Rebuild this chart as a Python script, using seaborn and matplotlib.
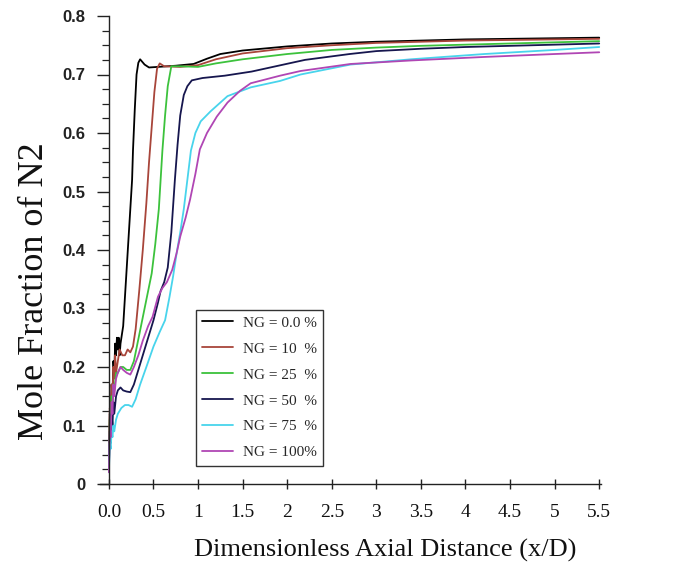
import numpy as np
import pandas as pd
import seaborn as sns
import matplotlib
matplotlib.use("Agg")
import matplotlib.pyplot as plt
from matplotlib.ticker import MultipleLocator, FixedLocator, FixedFormatter

# ---------------- data ----------------
labels = ["NG = 0.0 %", "NG = 10  %", "NG = 25  %", "NG = 50  %", "NG = 75  %", "NG = 100%"]
colors = ["#000000", "#a8453a", "#3cc23c", "#16164e", "#48d4ec", "#b046b4"]

x_ng0 = [0, 0.01, 0.02, 0.03, 0.04, 0.05, 0.06, 0.07, 0.08, 0.09, 0.10, 0.11, 0.12, 0.13, 0.14,
         0.16, 0.18, 0.20, 0.22, 0.24, 0.26, 0.27, 0.29, 0.31, 0.33, 0.35,
         0.40, 0.45, 0.55, 0.75, 0.95, 1.10, 1.25,
         1.5, 2.0, 2.5, 3.0, 3.5, 4.0, 4.5, 5.0, 5.5]
y_ng0 = [0.04, 0.12, 0.10, 0.17, 0.15, 0.21, 0.19, 0.24, 0.22, 0.25, 0.23, 0.25, 0.22, 0.24, 0.25,
         0.27, 0.32, 0.37, 0.42, 0.47, 0.52, 0.57, 0.64, 0.70, 0.72, 0.726,
         0.717, 0.712, 0.713, 0.715, 0.718, 0.727, 0.735,
         0.741, 0.748, 0.753, 0.756, 0.758, 0.760, 0.761, 0.762, 0.763]

x_ng10 = [0, 0.01, 0.02, 0.03, 0.04, 0.05, 0.06, 0.07, 0.08,
          0.10, 0.12, 0.15, 0.18, 0.21, 0.24, 0.27, 0.30,
          0.34, 0.38, 0.42, 0.45, 0.48, 0.51, 0.54, 0.57, 0.62,
          0.80, 1.0, 1.2, 1.5, 2.0, 2.5, 3.0, 3.5, 4.0, 4.5, 5.0, 5.5]
y_ng10 = [0.04, 0.13, 0.11, 0.17, 0.15, 0.20, 0.18, 0.22, 0.19,
          0.21, 0.23, 0.22, 0.22, 0.23, 0.225, 0.235, 0.265,
          0.33, 0.40, 0.48, 0.55, 0.61, 0.67, 0.71, 0.719, 0.714,
          0.713, 0.716, 0.726, 0.736, 0.745, 0.750, 0.754, 0.756, 0.758, 0.759, 0.760, 0.761]

x_ng25 = [0, 0.01, 0.02, 0.03, 0.04, 0.05, 0.06,
          0.08, 0.10, 0.13, 0.16, 0.20, 0.24, 0.28, 0.32, 0.36, 0.40,
          0.44, 0.48, 0.52, 0.56, 0.60, 0.63, 0.66, 0.70,
          0.80, 1.0, 1.2, 1.5, 2.0, 2.5, 3.0, 3.5, 4.0, 4.5, 5.0, 5.5]
y_ng25 = [0.03, 0.11, 0.09, 0.15, 0.13, 0.17, 0.16,
          0.19, 0.19, 0.20, 0.20, 0.195, 0.195, 0.21, 0.24, 0.27, 0.30,
          0.33, 0.36, 0.41, 0.47, 0.57, 0.63, 0.68, 0.714,
          0.714, 0.713, 0.719, 0.726, 0.735, 0.742, 0.746, 0.749, 0.751, 0.753, 0.755, 0.757]

x_ng50 = [0, 0.01, 0.02, 0.03, 0.04, 0.05, 0.06,
          0.08, 0.10, 0.13, 0.16, 0.20, 0.24, 0.28, 0.32, 0.38, 0.44,
          0.50, 0.55, 0.58, 0.62, 0.66, 0.70, 0.74, 0.77, 0.80, 0.84, 0.88, 0.93,
          1.05, 1.3, 1.6, 1.9, 2.2, 2.7, 3.0, 3.5, 4.0, 4.5, 5.0, 5.5]
y_ng50 = [0.03, 0.09, 0.07, 0.12, 0.10, 0.14, 0.12,
          0.15, 0.16, 0.165, 0.16, 0.158, 0.157, 0.17, 0.19, 0.22, 0.25,
          0.28, 0.31, 0.33, 0.345, 0.37, 0.43, 0.52, 0.58, 0.63, 0.665, 0.68, 0.69,
          0.694, 0.698, 0.705, 0.715, 0.725, 0.735, 0.740, 0.744, 0.747, 0.749, 0.751, 0.753]

x_ng75 = [0, 0.01, 0.02, 0.03, 0.04, 0.05, 0.06,
          0.08, 0.10, 0.14, 0.18, 0.22, 0.26, 0.30, 0.35, 0.42, 0.50,
          0.57, 0.63, 0.68, 0.72, 0.76, 0.80, 0.84, 0.88, 0.92, 0.97, 1.03,
          1.14, 1.33, 1.59, 1.92, 2.15, 2.71, 3.39, 4.21, 5.0, 5.5]
y_ng75 = [0.02, 0.07, 0.06, 0.09, 0.08, 0.10, 0.09,
          0.11, 0.12, 0.13, 0.135, 0.135, 0.132, 0.145, 0.17, 0.20, 0.235,
          0.26, 0.28, 0.32, 0.355, 0.395, 0.43, 0.47, 0.52, 0.57, 0.60, 0.62,
          0.637, 0.663, 0.678, 0.689, 0.70, 0.717, 0.726, 0.735, 0.742, 0.747]

x_ng100 = [0, 0.01, 0.02, 0.03, 0.04, 0.05, 0.06,
           0.08, 0.10, 0.13, 0.16, 0.20, 0.24, 0.28, 0.33, 0.38, 0.44,
           0.49, 0.55, 0.60, 0.65, 0.71, 0.76, 0.80, 0.86, 0.91, 0.97, 1.02,
           1.10, 1.21, 1.33, 1.47, 1.59, 1.92, 2.15, 2.71, 3.39, 4.21, 5.0, 5.5]
y_ng100 = [0.02, 0.10, 0.08, 0.14, 0.12, 0.17, 0.15,
           0.18, 0.19, 0.20, 0.195, 0.19, 0.187, 0.20, 0.22, 0.245, 0.27,
           0.286, 0.32, 0.335, 0.345, 0.366, 0.395, 0.423, 0.455, 0.486, 0.53, 0.572,
           0.60, 0.628, 0.652, 0.672, 0.685, 0.698, 0.706, 0.718, 0.724, 0.730, 0.735, 0.738]

x_ticks = [0, 0.5, 1, 1.5, 2, 2.5, 3, 3.5, 4, 4.5, 5, 5.5]
x_ticklabels = ["0.0", "0.5", "1", "1.5", "2", "2.5", "3", "3.5", "4", "4.5", "5", "5.5"]
y_ticks = [0, 0.1, 0.2, 0.3, 0.4, 0.5, 0.6, 0.7, 0.8]
y_ticklabels = ["0", "0.1", "0.2", "0.3", "0.4", "0.5", "0.6", "0.7", "0.8"]

xs_all = [x_ng0, x_ng10, x_ng25, x_ng50, x_ng75, x_ng100]
ys_all = [y_ng0, y_ng10, y_ng25, y_ng50, y_ng75, y_ng100]

df = pd.concat([pd.DataFrame({"x": xs, "y": ys, "series": lab})
                for lab, xs, ys in zip(labels, xs_all, ys_all)], ignore_index=True)

# ---------------- plot ----------------
sns.set_theme(style="white")
plt.rcParams["font.family"] = ["Liberation Serif", "DejaVu Serif"]

fig = plt.figure(figsize=(6.93, 5.70), dpi=100)
ax = fig.add_axes([100 / 693, 1 - 484 / 570, 501 / 693, 468 / 570])

sns.lineplot(data=df, x="x", y="y", hue="series", hue_order=labels,
             palette=dict(zip(labels, colors)), estimator=None, sort=False,
             linewidth=1.3, ax=ax)

ax.set_xlim(-0.1, 5.52)
ax.set_ylim(0, 0.8)
for s in ["top", "right"]:
    ax.spines[s].set_visible(False)
ax.spines["left"].set_position(("data", 0))
ax.spines["left"].set_bounds(0, 0.8)
for s in ["left", "bottom"]:
    ax.spines[s].set_color("#222222")
    ax.spines[s].set_linewidth(1.0)

ax.xaxis.set_major_locator(FixedLocator(x_ticks))
ax.xaxis.set_major_formatter(FixedFormatter(x_ticklabels))
ax.yaxis.set_major_locator(FixedLocator(y_ticks))
ax.yaxis.set_major_formatter(FixedFormatter(y_ticklabels))
ax.yaxis.set_minor_locator(MultipleLocator(0.025))

ax.tick_params(axis="x", which="major", direction="inout", length=7, width=1.0,
               color="#222222", pad=11, labelsize=14, labelcolor="#111111", bottom=True)
ax.tick_params(axis="y", which="major", direction="out", length=9, width=1.0,
               color="#222222", pad=8, labelsize=12, labelcolor="#222222", left=True)
ax.tick_params(axis="y", which="minor", direction="out", length=5, width=0.9,
               color="#222222", left=True)
for t in ax.get_yticklabels():
    t.set_fontfamily(["Liberation Sans", "DejaVu Sans"])
    t.set_fontweight("bold")

ax.set_xlabel("")
ax.set_ylabel("")
fig.text(385 / 693, 1 - 550 / 570, "Dimensionless Axial Distance (x/D)",
         ha="center", va="center", fontsize=19, color="#111111")
fig.text(35 / 693, 1 - 291 / 570, "Mole Fraction of N2", rotation=90,
         ha="center", va="center", fontsize=26, color="#111111")

handles, labs = ax.get_legend_handles_labels()
leg = ax.legend(handles, labs, loc="upper left",
                bbox_to_anchor=(196 / 693, 1 - 310 / 570), bbox_transform=fig.transFigure,
                borderaxespad=0, fontsize=11, frameon=True, fancybox=False,
                edgecolor="#333333", framealpha=1, handlelength=2.0, handletextpad=0.7,
                labelspacing=0.8, borderpad=0.4)
leg.get_frame().set_linewidth(1.0)

fig.savefig("out.png", dpi=100)
